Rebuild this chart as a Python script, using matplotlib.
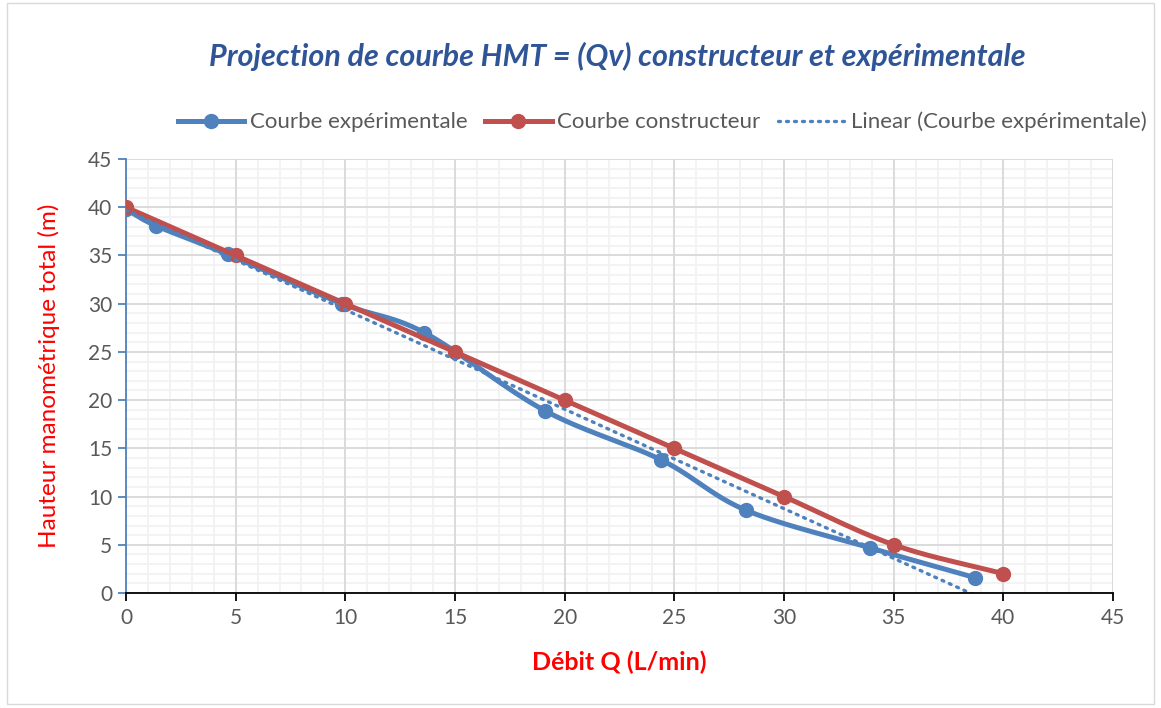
import numpy as np
import matplotlib
matplotlib.use("Agg")
import matplotlib.pyplot as plt
from matplotlib.patches import Rectangle

plt.rcParams['font.family'] = ['Lato', 'DejaVu Sans']

q_exp = [0.0, 1.35, 4.65, 9.85, 13.6, 19.1, 24.4, 28.25, 33.9, 38.7]
h_exp = [39.8, 38.1, 35.1, 30.0, 27.0, 18.9, 13.8, 8.6, 4.7, 1.6]

# manufacturer curve
q_con = [0, 5, 10, 15, 20, 25, 30, 35, 40]
h_con = [40, 35, 30, 25, 20, 15, 10, 5, 2]

x_ticks = [0, 5, 10, 15, 20, 25, 30, 35, 40, 45]
y_ticks = [0, 5, 10, 15, 20, 25, 30, 35, 40, 45]

BLUE = '#4f81bd'
RED = '#c0504d'


def smooth(x, y, n=30):
    # Catmull-Rom style smoothing, similar to Excel "smoothed line"
    x = np.asarray(x, float)
    y = np.asarray(y, float)
    px = np.concatenate([[2 * x[0] - x[1]], x, [2 * x[-1] - x[-2]]])
    py = np.concatenate([[2 * y[0] - y[1]], y, [2 * y[-1] - y[-2]]])
    xs, ys = [], []
    t = np.linspace(0, 1, n)
    for i in range(1, len(px) - 2):
        p0, p1, p2, p3 = (np.array([px[j], py[j]]) for j in (i - 1, i, i + 1, i + 2))
        m1 = (p2 - p0) / 6
        m2 = (p3 - p1) / 6
        b0, b1, b2, b3 = p1, p1 + m1, p2 - m2, p2
        pts = ((1 - t) ** 3)[:, None] * b0 + (3 * (1 - t) ** 2 * t)[:, None] * b1 \
            + (3 * (1 - t) * t ** 2)[:, None] * b2 + (t ** 3)[:, None] * b3
        xs.extend(pts[:, 0])
        ys.extend(pts[:, 1])
    return np.array(xs), np.array(ys)


fig = plt.figure(figsize=(11.61, 7.08), dpi=100)
ax = fig.add_axes([0.1085, 0.1624, 0.8502, 0.613])

fig.patches.append(Rectangle((0.006, 0.006), 0.988, 0.99, transform=fig.transFigure,
                             fill=False, edgecolor='#d9d9d9', linewidth=1))

# grid: minor lines first, major on top
for v in np.arange(0, 46, 1):
    ax.axvline(v, color='#f2f2f2', linewidth=1.3, zorder=0.1)
    ax.axhline(v, color='#f2f2f2', linewidth=1.3, zorder=0.1)
for v in np.arange(0, 46, 5):
    ax.axvline(v, color='#d9d9d9', linewidth=1.3, zorder=0.2)
    ax.axhline(v, color='#d9d9d9', linewidth=1.3, zorder=0.2)

sx, sy = smooth(q_exp, h_exp)
ax.plot(sx, sy, color=BLUE, linewidth=3.6, solid_capstyle='round', zorder=3)
ax.plot(q_exp, h_exp, 'o', color=BLUE, markersize=10, zorder=3)
ax.plot([], [], '-o', color=BLUE, linewidth=3.6, markersize=10, label='Courbe expérimentale')

cx, cy = smooth(q_con, h_con)
ax.plot(cx, cy, color=RED, linewidth=3.6, solid_capstyle='round', zorder=4)
ax.plot(q_con, h_con, 'o', color=RED, markersize=10, zorder=4)
ax.plot([], [], '-o', color=RED, linewidth=3.6, markersize=10, label='Courbe constructeur')

slope, inter = np.polyfit(q_exp, h_exp, 1)
tx = np.array([q_exp[0], q_exp[-1]])
ax.plot(tx, slope * tx + inter, color=BLUE, linewidth=2.4, linestyle=(0, (0.6, 1.8)),
        dash_capstyle='round', zorder=5, label='Linear (Courbe expérimentale)')

ax.set_xlim(0, 45)
ax.set_ylim(0, 45)
ax.set_xticks(x_ticks)
ax.set_yticks(y_ticks)

for s in ['top', 'right']:
    ax.spines[s].set_visible(False)
ax.spines['left'].set_color(BLUE)
ax.spines['left'].set_linewidth(1.3)
ax.spines['bottom'].set_color('black')
ax.spines['bottom'].set_linewidth(1.3)
ax.spines['bottom'].set_zorder(6)
ax.tick_params(axis='y', which='major', colors=BLUE, labelcolor='#595959', length=6,
               width=1.3, direction='out', labelsize=15, pad=4)
ax.tick_params(axis='x', which='major', colors='black', labelcolor='#595959', length=6,
               width=1.3, direction='out', labelsize=15, pad=5)

ax.set_xlabel('Débit Q (L/min)', color='#ff0000', fontsize=18, fontweight='bold', labelpad=16)
ax.set_ylabel('Hauteur manométrique total (m)', color='#ff0000', fontsize=17.5, labelpad=20)

fig.text(0.532, 0.92, 'Projection de courbe HMT = (Qv) constructeur et expérimentale',
         ha='center', va='center', fontsize=22, fontweight='bold', fontstyle='italic',
         color='#2f5597')

ax.legend(loc='center', bbox_to_anchor=(0.543, 1.085), ncol=3, frameon=False,
          fontsize=16, handlelength=3.0, handletextpad=0.25, columnspacing=0.8,
          labelcolor='#595959', borderaxespad=0)

fig.savefig('out.png', dpi=100)
